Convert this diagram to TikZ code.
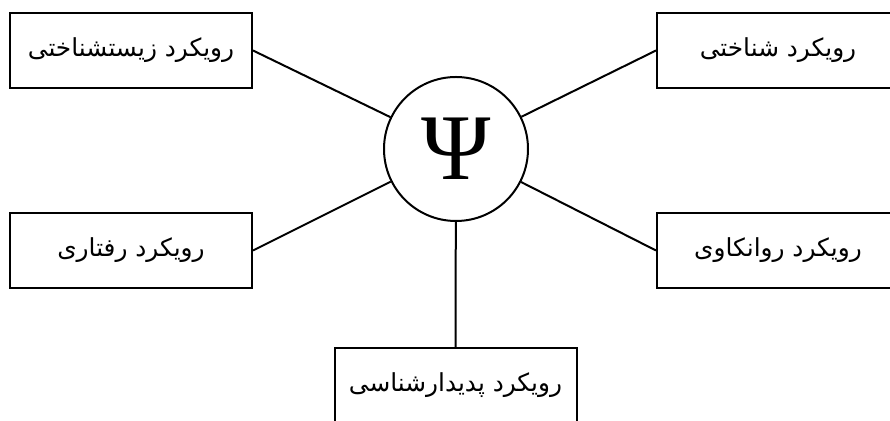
\documentclass[tikz,border=0pt]{standalone}
\usepackage{fontspec}
\newfontfamily\arabicfont[Script=Arabic]{DejaVu Sans}
\newfontfamily\psifont{Liberation Serif}
\TeXXeTstate=1

\tikzset{
  approach/.style={draw, line width=1pt, minimum width=121pt, minimum height=37.5pt,
    inner sep=0pt, font=\arabicfont\fontsize{12.4}{14}\selectfont},
  link/.style={line width=1pt}
}

\begin{document}
\begin{tikzpicture}[x=0.5pt, y=-0.5pt]

\useasboundingbox (0,0) rectangle (890,421);
\clip (0,0) rectangle (890,421);

% Central circle with the letter psi
\node [draw, circle, line width=1pt, minimum size=72pt, inner sep=0pt,
  font=\psifont\fontsize{47}{50}\selectfont] (psi) at (456,149) {Ψ};

% The five approaches
\node [approach] (bio) at (131,50.5) {\beginR رویکرد زیستشناختی\endR};
\node [approach] (cog) at (778,50.5) {\beginR رویکرد شناختی\endR};
\node [approach] (beh) at (131,250.5) {\beginR رویکرد رفتاری\endR};
\node [approach] (psa) at (778,250.5) {\beginR رویکرد روانکاوی\endR};
\node [approach] (phe) at (455.5,385.5) {\beginR رویکرد پدیدارشناسی\endR};

% Spokes
\draw [link] (bio.east) -- (psi);
\draw [link] (cog.west) -- (psi);
\draw [link] (beh.east) -- (psi);
\draw [link] (psa.west) -- (psi);
\draw [link] (phe.north) -- (psi);

\end{tikzpicture}
\end{document}
